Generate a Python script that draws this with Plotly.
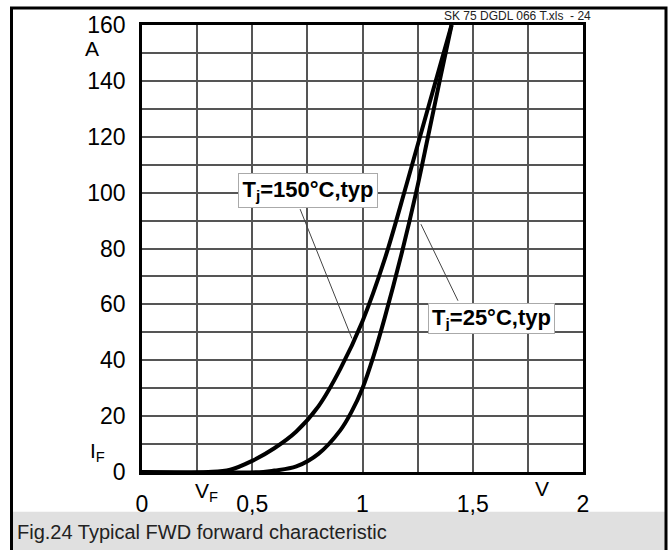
import plotly.graph_objects as go

# ---- data ----
v_150 = [0, 0.3, 0.4, 0.5, 0.6, 0.7, 0.8, 0.9, 1.0, 1.1, 1.2, 1.3, 1.404]
i_150 = [0, 0, 0.8, 4, 8.5, 14.5, 23.5, 37, 54, 76, 103, 131, 160]
v_25 = [0, 0.55, 0.6, 0.7, 0.8, 0.9, 0.95, 1.0, 1.05, 1.1, 1.18, 1.243, 1.297, 1.35, 1.404]
i_25 = [0, 0, 0.5, 2, 6.5, 15, 21.5, 30, 41.5, 55, 79, 100, 120, 140, 160]

x_tickvals = [0, 0.5, 1, 1.5, 2]
x_ticktext = ["0", "0,5", "1", "1,5", "2"]
y_tickvals = [0, 20, 40, 60, 80, 100, 120, 140, 160]
y_ticktext = ["0", "20", "40", "60", "80", "100", "120", "140", "160"]

label_150 = "T<sub>j</sub>=150°C,typ"
label_25 = "T<sub>j</sub>=25°C,typ"
caption = "Fig.24 Typical FWD forward characteristic"
file_tag = "SK 75 DGDL 066 T.xls  - 24"

FONT = "Liberation Sans, Arial, sans-serif"
W, H = 670, 550
L, R, T, B = 142, 583, 23, 472


def px(xp):
    return (xp - L) / (R - L)


def py(yp):
    return (B - yp) / (B - T)


fig = go.Figure()
for v, i in [(v_150, i_150), (v_25, i_25)]:
    fig.add_trace(go.Scatter(x=v, y=i, mode="lines",
                             line=dict(color="black", width=4, shape="spline", smoothing=1.0),
                             showlegend=False, hoverinfo="skip"))

grid = "#555555"
fig.update_xaxes(range=[0, 2], tickvals=x_tickvals, ticktext=x_ticktext,
                 showgrid=True, gridcolor=grid, gridwidth=1.5,
                 minor=dict(dtick=0.25, tick0=0, showgrid=True, gridcolor=grid, gridwidth=1.5),
                 showline=True, linecolor="black", linewidth=2.5, mirror=True,
                 ticks="", zeroline=False, ticklabelstandoff=10,
                 tickfont=dict(family=FONT, size=23, color="black"))
fig.update_yaxes(range=[0, 160], tickvals=y_tickvals, ticktext=y_ticktext,
                 showgrid=True, gridcolor=grid, gridwidth=1.5,
                 minor=dict(dtick=10, tick0=0, showgrid=True, gridcolor=grid, gridwidth=1.5),
                 showline=True, linecolor="black", linewidth=2.5, mirror=True,
                 ticks="", zeroline=False, ticklabelstandoff=9,
                 tickfont=dict(family=FONT, size=23, color="black"))

shapes = []
# caption band
shapes.append(dict(type="rect", xref="paper", yref="paper",
                   x0=px(13), x1=px(666), y0=py(512), y1=py(552),
                   fillcolor="#e0e0e0", line=dict(width=0), layer="below"))
# outer frame
shapes.append(dict(type="rect", xref="paper", yref="paper",
                   x0=px(11.5), x1=px(666), y0=py(560), y1=py(6),
                   fillcolor="rgba(0,0,0,0)", line=dict(color="black", width=3)))
# leader lines
shapes.append(dict(type="line", xref="x", yref="y", x0=0.717, y0=94.1, x1=0.952, y1=47.8,
                   line=dict(color="#444444", width=1)))
shapes.append(dict(type="line", xref="x", yref="y", x0=1.265, y0=88.7, x1=1.433, y1=61.3,
                   line=dict(color="#444444", width=1)))

C = dict(xanchor="center", yanchor="middle", showarrow=False)
ann = []
ann.append(dict(x=0.755, y=100.9, xref="x", yref="y", text="<b>" + label_150 + "</b>",
                font=dict(family=FONT, size=22, color="black"),
                bgcolor="white", bordercolor="#aaaaaa", borderwidth=1, borderpad=2,
                width=134, height=29, **C))
ann.append(dict(x=1.583, y=54.9, xref="x", yref="y", text="<b>" + label_25 + "</b>",
                font=dict(family=FONT, size=22, color="black"),
                bgcolor="white", bordercolor="#aaaaaa", borderwidth=1, borderpad=2,
                width=121, height=25, **C))
ann.append(dict(x=px(91.5), y=py(47), xref="paper", yref="paper", text="A",
                font=dict(family=FONT, size=21, color="black"), **C))
ann.append(dict(x=px(97), y=py(452), xref="paper", yref="paper", text="I<sub>F</sub>",
                font=dict(family=FONT, size=21, color="black"), **C))
ann.append(dict(x=px(206), y=py(492), xref="paper", yref="paper", text="V<sub>F</sub>",
                font=dict(family=FONT, size=21, color="black"), **C))
ann.append(dict(x=px(542), y=py(489), xref="paper", yref="paper", text="V",
                font=dict(family=FONT, size=21, color="black"), **C))
ann.append(dict(x=px(593), y=py(14), xref="paper", yref="paper", text=file_tag,
                xanchor="right", yanchor="middle", showarrow=False,
                font=dict(family=FONT, size=12, color="#222222")))
ann.append(dict(x=px(15), y=py(532), xref="paper", yref="paper", text=caption,
                xanchor="left", yanchor="middle", showarrow=False,
                font=dict(family=FONT, size=20, color="#222222")))

fig.update_layout(width=W, height=H, margin=dict(l=L, r=W - R, t=T, b=H - B),
                  paper_bgcolor="white", plot_bgcolor="white",
                  shapes=shapes, annotations=ann, showlegend=False)

fig.write_html("out.html", config={"displayModeBar": False},
               post_script="document.body.style.margin='0';")
